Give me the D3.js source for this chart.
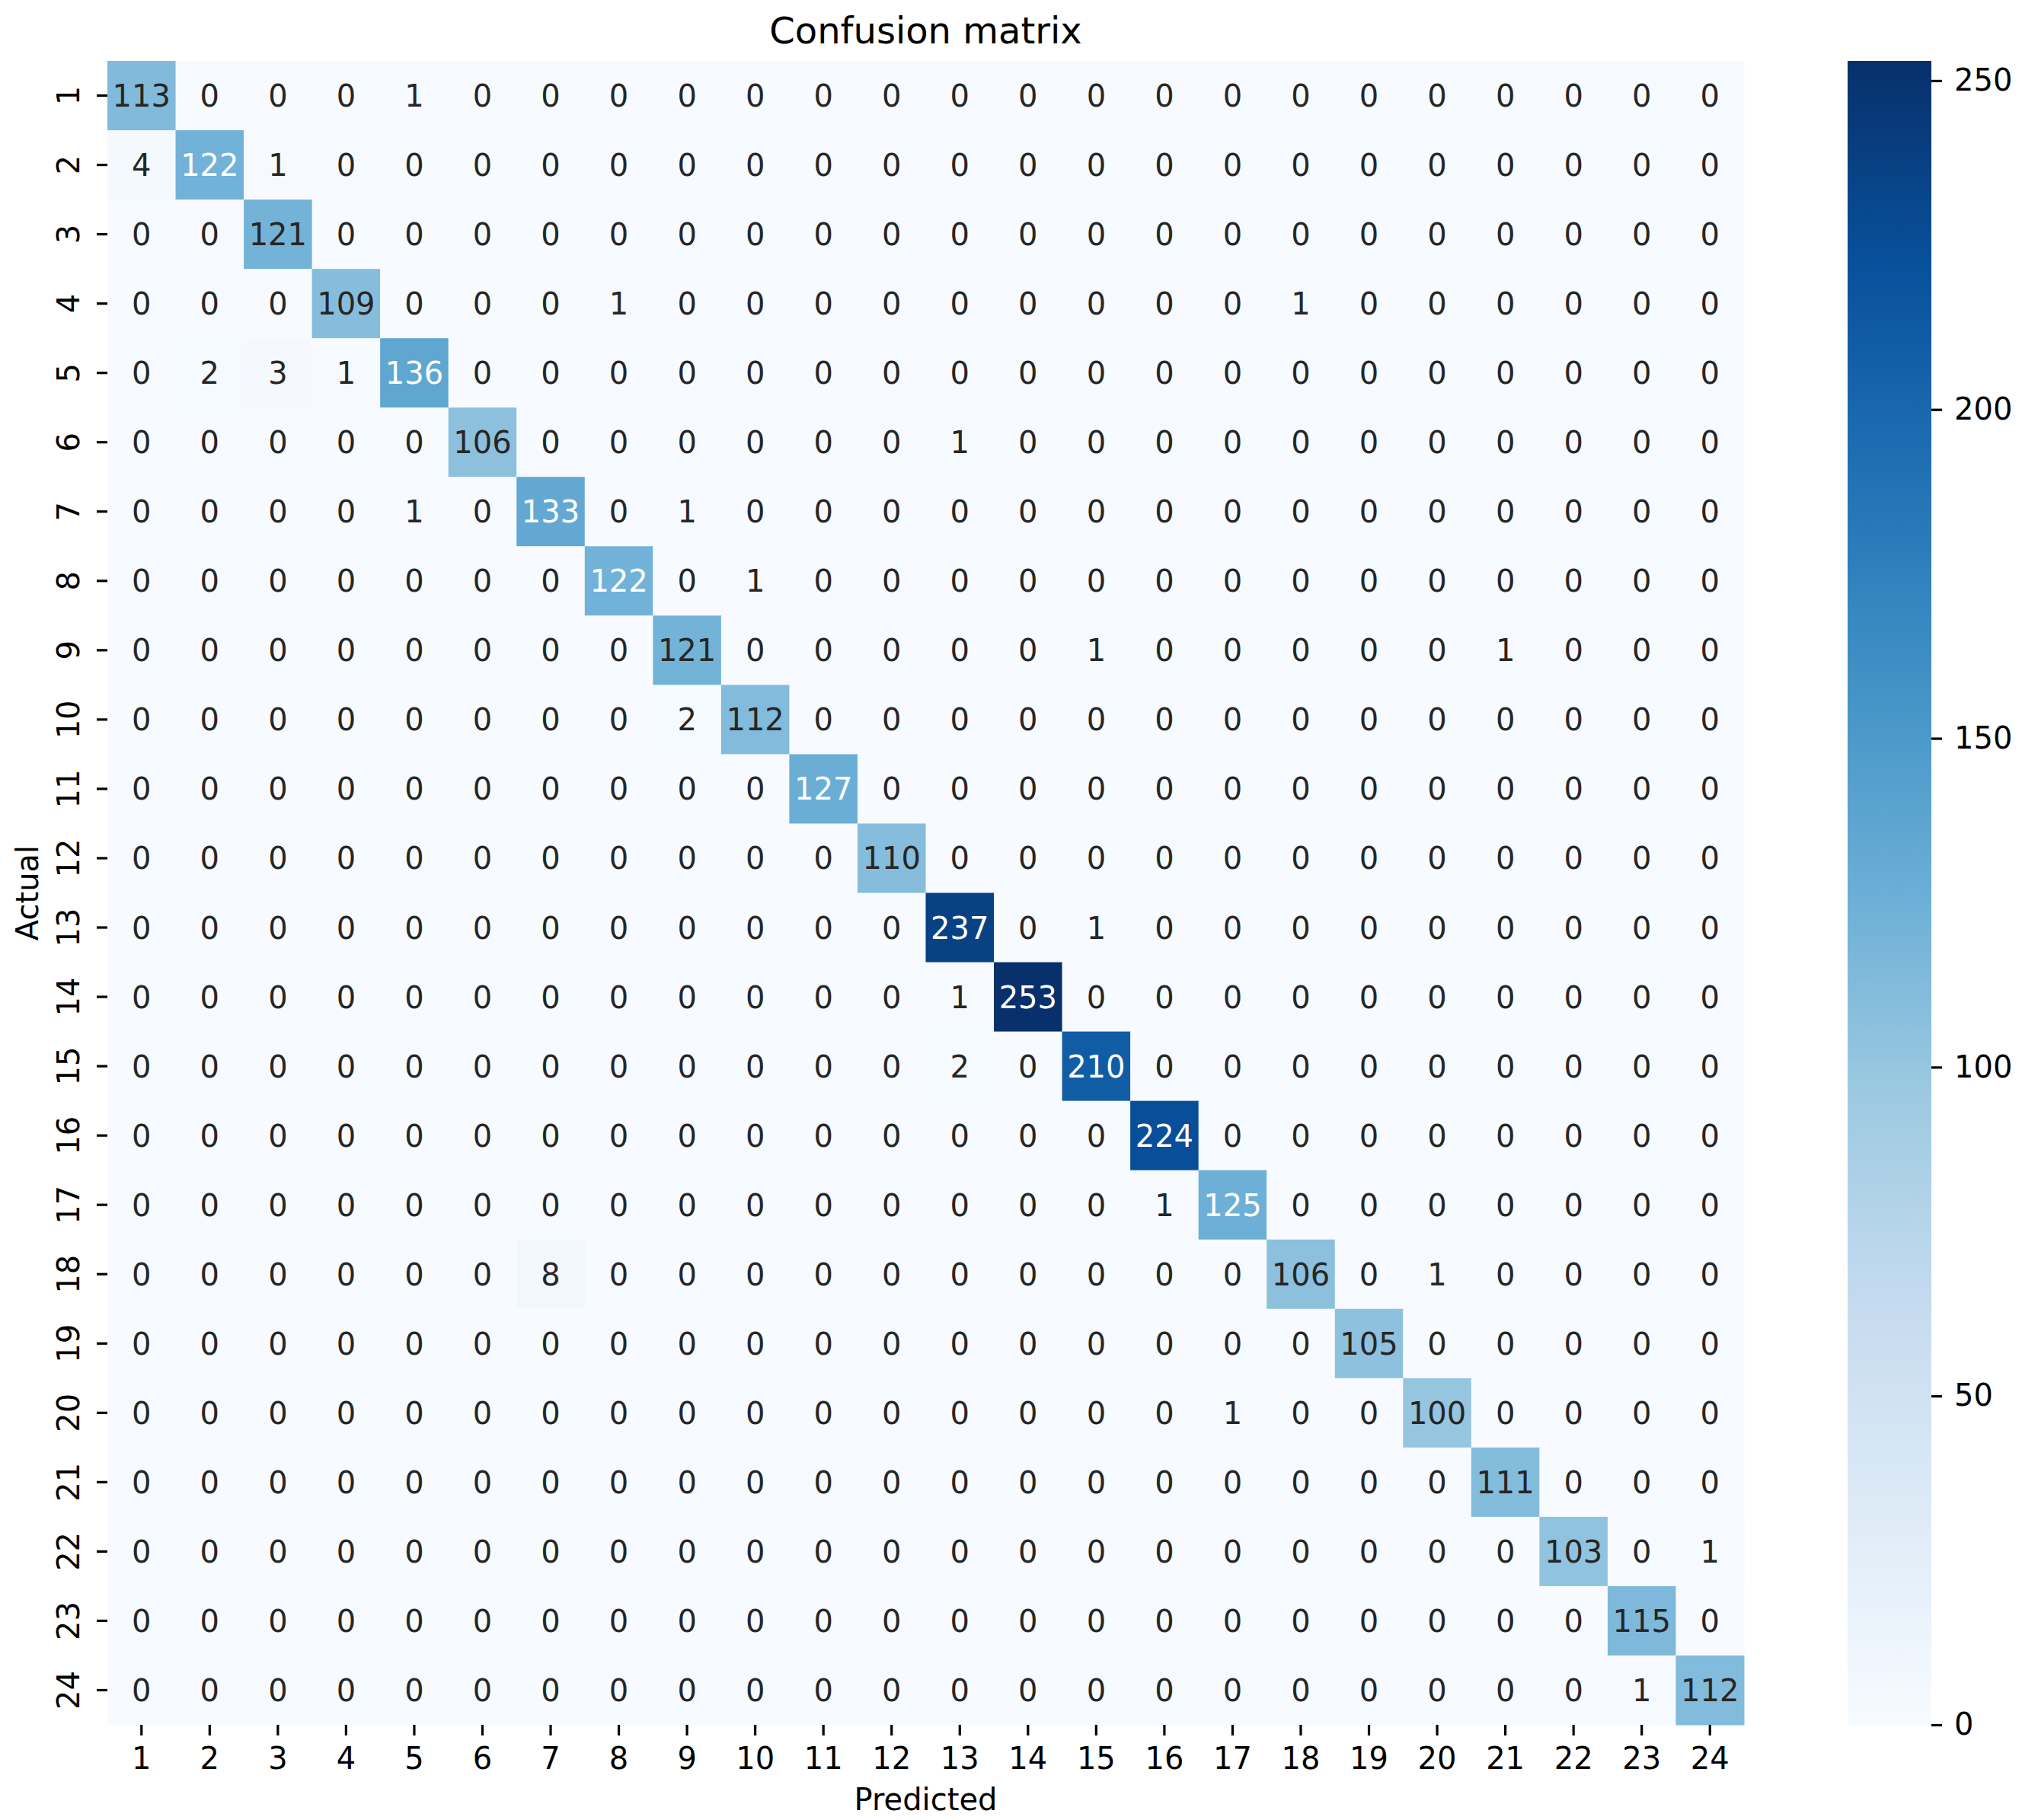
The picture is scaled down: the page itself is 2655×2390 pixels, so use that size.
<!DOCTYPE html>
<html>
<head>
<meta charset="utf-8">
<script src="https://cdn.jsdelivr.net/npm/d3@7"></script>
<style>
  html, body { margin: 0; padding: 0; background: #fff; }
  text { font-family: "DejaVu Sans", sans-serif; }
</style>
</head>
<body>
<div id="app"></div>
<script>
// class labels (same for actual and predicted)
const labels = d3.range(1, 25).map(String);

// rows = actual, columns = predicted
const matrix = [
  [113, 0, 0, 0, 1, 0, 0, 0, 0, 0, 0, 0, 0, 0, 0, 0, 0, 0, 0, 0, 0, 0, 0, 0],
  [4, 122, 1, 0, 0, 0, 0, 0, 0, 0, 0, 0, 0, 0, 0, 0, 0, 0, 0, 0, 0, 0, 0, 0],
  [0, 0, 121, 0, 0, 0, 0, 0, 0, 0, 0, 0, 0, 0, 0, 0, 0, 0, 0, 0, 0, 0, 0, 0],
  [0, 0, 0, 109, 0, 0, 0, 1, 0, 0, 0, 0, 0, 0, 0, 0, 0, 1, 0, 0, 0, 0, 0, 0],
  [0, 2, 3, 1, 136, 0, 0, 0, 0, 0, 0, 0, 0, 0, 0, 0, 0, 0, 0, 0, 0, 0, 0, 0],
  [0, 0, 0, 0, 0, 106, 0, 0, 0, 0, 0, 0, 1, 0, 0, 0, 0, 0, 0, 0, 0, 0, 0, 0],
  [0, 0, 0, 0, 1, 0, 133, 0, 1, 0, 0, 0, 0, 0, 0, 0, 0, 0, 0, 0, 0, 0, 0, 0],
  [0, 0, 0, 0, 0, 0, 0, 122, 0, 1, 0, 0, 0, 0, 0, 0, 0, 0, 0, 0, 0, 0, 0, 0],
  [0, 0, 0, 0, 0, 0, 0, 0, 121, 0, 0, 0, 0, 0, 1, 0, 0, 0, 0, 0, 1, 0, 0, 0],
  [0, 0, 0, 0, 0, 0, 0, 0, 2, 112, 0, 0, 0, 0, 0, 0, 0, 0, 0, 0, 0, 0, 0, 0],
  [0, 0, 0, 0, 0, 0, 0, 0, 0, 0, 127, 0, 0, 0, 0, 0, 0, 0, 0, 0, 0, 0, 0, 0],
  [0, 0, 0, 0, 0, 0, 0, 0, 0, 0, 0, 110, 0, 0, 0, 0, 0, 0, 0, 0, 0, 0, 0, 0],
  [0, 0, 0, 0, 0, 0, 0, 0, 0, 0, 0, 0, 237, 0, 1, 0, 0, 0, 0, 0, 0, 0, 0, 0],
  [0, 0, 0, 0, 0, 0, 0, 0, 0, 0, 0, 0, 1, 253, 0, 0, 0, 0, 0, 0, 0, 0, 0, 0],
  [0, 0, 0, 0, 0, 0, 0, 0, 0, 0, 0, 0, 2, 0, 210, 0, 0, 0, 0, 0, 0, 0, 0, 0],
  [0, 0, 0, 0, 0, 0, 0, 0, 0, 0, 0, 0, 0, 0, 0, 224, 0, 0, 0, 0, 0, 0, 0, 0],
  [0, 0, 0, 0, 0, 0, 0, 0, 0, 0, 0, 0, 0, 0, 0, 1, 125, 0, 0, 0, 0, 0, 0, 0],
  [0, 0, 0, 0, 0, 0, 8, 0, 0, 0, 0, 0, 0, 0, 0, 0, 0, 106, 0, 1, 0, 0, 0, 0],
  [0, 0, 0, 0, 0, 0, 0, 0, 0, 0, 0, 0, 0, 0, 0, 0, 0, 0, 105, 0, 0, 0, 0, 0],
  [0, 0, 0, 0, 0, 0, 0, 0, 0, 0, 0, 0, 0, 0, 0, 0, 1, 0, 0, 100, 0, 0, 0, 0],
  [0, 0, 0, 0, 0, 0, 0, 0, 0, 0, 0, 0, 0, 0, 0, 0, 0, 0, 0, 0, 111, 0, 0, 0],
  [0, 0, 0, 0, 0, 0, 0, 0, 0, 0, 0, 0, 0, 0, 0, 0, 0, 0, 0, 0, 0, 103, 0, 1],
  [0, 0, 0, 0, 0, 0, 0, 0, 0, 0, 0, 0, 0, 0, 0, 0, 0, 0, 0, 0, 0, 0, 115, 0],
  [0, 0, 0, 0, 0, 0, 0, 0, 0, 0, 0, 0, 0, 0, 0, 0, 0, 0, 0, 0, 0, 0, 1, 112]
];

const cbarTicks = [0, 50, 100, 150, 200, 250];

// matplotlib "Blues" stops (linear between them)
const bluesStops = ['#f7fbff', '#deebf7', '#c6dbef', '#9ecae1', '#6baed6',
                    '#4292c6', '#2171b5', '#08519c', '#08306b'];

(() => {
  const WIDTH = 2655, HEIGHT = 2390;
  const left = 141, right = 2290, top = 80, bottom = 2265;
  const cbLeft = 2426, cbRight = 2536;

  const vmax = d3.max(matrix, r => d3.max(r));
  const vmin = 0;

  const color = d3.scaleLinear()
    .domain(bluesStops.map((c, i) => vmin + (vmax - vmin) * i / (bluesStops.length - 1)))
    .range(bluesStops)
    .interpolate(d3.interpolateRgb)
    .clamp(true);

  // seaborn picks text colour from luminance of the cell
  const lum = c => {
    const rgb = d3.rgb(c);
    const f = v => { v /= 255; return v <= 0.03928 ? v / 12.92 : Math.pow((v + 0.055) / 1.055, 2.4); };
    return 0.2126 * f(rgb.r) + 0.7152 * f(rgb.g) + 0.0722 * f(rgb.b);
  };

  const svg = d3.select('#app').append('svg')
    .attr('width', WIDTH)
    .attr('height', HEIGHT)
    .attr('viewBox', [0, 0, WIDTH, HEIGHT]);

  svg.append('rect').attr('width', WIDTH).attr('height', HEIGHT).attr('fill', '#fff');

  const x = d3.scaleBand().domain(labels).range([left, right]);
  const y = d3.scaleBand().domain(labels).range([top, bottom]);

  const cells = matrix.flatMap((row, i) => row.map((v, j) => ({ actual: labels[i], pred: labels[j], v })));

  svg.append('g')
    .selectAll('rect')
    .data(cells)
    .join('rect')
    .attr('x', d => x(d.pred))
    .attr('y', d => y(d.actual))
    .attr('width', x.bandwidth() + 0.5)
    .attr('height', y.bandwidth() + 0.5)
    .attr('fill', d => color(d.v));

  svg.append('g')
    .selectAll('text')
    .data(cells)
    .join('text')
    .attr('x', d => x(d.pred) + x.bandwidth() / 2)
    .attr('y', d => y(d.actual) + y.bandwidth() / 2 + 14.5)
    .attr('text-anchor', 'middle')
    .attr('font-size', 40)
    .attr('fill', d => lum(color(d.v)) > 0.408 ? '#262626' : '#ffffff')
    .text(d => d.v);

  // x axis
  const xAxis = svg.append('g')
    .attr('transform', `translate(0,${bottom})`)
    .call(d3.axisBottom(x).tickSize(14).tickPadding(0));
  xAxis.select('.domain').remove();
  xAxis.selectAll('.tick line').attr('stroke', '#000').attr('stroke-width', 3.2);
  xAxis.selectAll('.tick text')
    .attr('font-size', 40)
    .attr('fill', '#000')
    .attr('dy', null)
    .attr('y', 58);

  // y axis, labels rotated
  const yAxis = svg.append('g')
    .attr('transform', `translate(${left},0)`)
    .call(d3.axisLeft(y).tickSize(14).tickPadding(0));
  yAxis.select('.domain').remove();
  yAxis.selectAll('.tick line').attr('stroke', '#000').attr('stroke-width', 3.2);
  yAxis.selectAll('.tick text')
    .attr('font-size', 40)
    .attr('fill', '#000')
    .attr('x', null).attr('dy', null)
    .attr('text-anchor', 'middle')
    .attr('transform', 'translate(-37,0) rotate(-90)');

  // titles
  svg.append('text')
    .attr('x', (left + right) / 2).attr('y', 57)
    .attr('text-anchor', 'middle').attr('font-size', 48).attr('fill', '#000')
    .text('Confusion matrix');

  svg.append('text')
    .attr('x', (left + right) / 2).attr('y', 2377)
    .attr('text-anchor', 'middle').attr('font-size', 40).attr('fill', '#000')
    .text('Predicted');

  svg.append('text')
    .attr('transform', `translate(50,${(top + bottom) / 2}) rotate(-90)`)
    .attr('text-anchor', 'middle').attr('font-size', 40).attr('fill', '#000')
    .text('Actual');

  // colorbar
  const cb = d3.scaleLinear().domain([vmin, vmax]).range([bottom, top]);
  const grad = svg.append('defs').append('linearGradient')
    .attr('id', 'cbgrad').attr('x1', 0).attr('y1', 1).attr('x2', 0).attr('y2', 0);
  grad.selectAll('stop')
    .data(d3.range(0, 1.0001, 1 / 64))
    .join('stop')
    .attr('offset', t => t)
    .attr('stop-color', t => color(vmin + t * (vmax - vmin)));

  svg.append('rect')
    .attr('x', cbLeft).attr('y', top)
    .attr('width', cbRight - cbLeft).attr('height', bottom - top)
    .attr('fill', 'url(#cbgrad)');

  const cbAxis = svg.append('g')
    .attr('transform', `translate(${cbRight},0)`)
    .call(d3.axisRight(cb).tickValues(cbarTicks).tickSize(14).tickPadding(16));
  cbAxis.select('.domain').remove();
  cbAxis.selectAll('.tick line').attr('stroke', '#000').attr('stroke-width', 3.2);
  cbAxis.selectAll('.tick text').attr('font-size', 40).attr('fill', '#000');
})();
</script>
</body>
</html>
